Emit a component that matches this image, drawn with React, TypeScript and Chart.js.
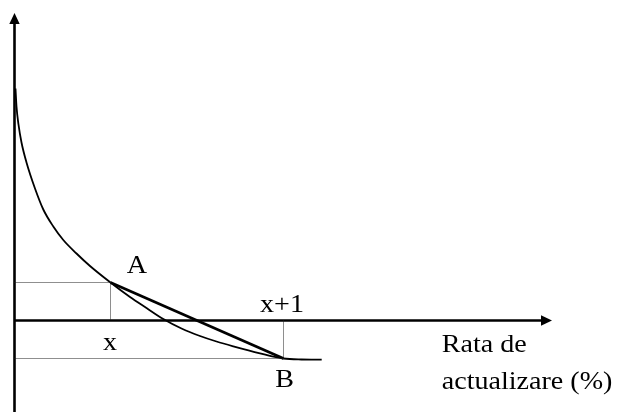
import React, { useEffect, useRef } from "react";
import { Chart, registerables } from "chart.js";

Chart.register(...registerables);

// Diagram units: origin where the axes cross; x = discount rate (schematic), y = NPV (schematic)
const curveX = [1, 2, 4, 7, 12, 20.5, 28.8, 38.8, 48.8, 62, 75.5, 96, 115.5, 132, 148.8, 167, 185.5, 202, 218.8, 245.5, 269, 287, 307.2];
const curveY = [232, 214, 196, 178, 158, 132, 111, 94, 80.5, 67, 54.5, 38, 23.5, 12.5, 1.5, -8, -15.5, -21, -25.8, -32.8, -38, -39, -39.2];

const pointA = { x: 96, y: 38 };
const pointB = { x: 269, y: -38 };

const xAxisEnd = 537.5; // arrow tip
const yAxisTop = 307.5; // arrow tip
const yAxisBottom = -92;

const labelTexts = ["A", "x", "x+1", "B", "Rata de", "actualizare (%)"];
const labelX = [122.5, 95.5, 267.5, 270, 427.2, 427.2];
const labelY = [47.5, -29.5, 8.8, -66.2, -31.2, -68.5];
const labelAlign: CanvasTextAlign[] = ["center", "center", "center", "center", "left", "left"];

const X_MIN = -14.5;
const X_MAX = 604.5;
const Y_MIN = -91.5;
const Y_MAX = 320.5;

const overlayPlugin = {
  id: "overlay",
  afterDatasetsDraw(chart: any) {
    const { ctx, scales } = chart;
    const sx = scales.x;
    const sy = scales.y;
    ctx.save();
    ctx.fillStyle = "#000";
    // arrow heads
    const ox = sx.getPixelForValue(0);
    const oy = sy.getPixelForValue(0);
    const tipY = sy.getPixelForValue(yAxisTop);
    ctx.beginPath();
    ctx.moveTo(ox, tipY);
    ctx.lineTo(ox - 5.2, tipY + 11);
    ctx.lineTo(ox + 5.2, tipY + 11);
    ctx.closePath();
    ctx.fill();
    const tipX = sx.getPixelForValue(xAxisEnd);
    ctx.beginPath();
    ctx.moveTo(tipX, oy);
    ctx.lineTo(tipX - 11, oy - 5.2);
    ctx.lineTo(tipX - 11, oy + 5.2);
    ctx.closePath();
    ctx.fill();
    // labels
    ctx.font = '26px "Liberation Serif", "Times New Roman", serif';
    ctx.textBaseline = "alphabetic";
    labelTexts.forEach((t, i) => {
      const px = sx.getPixelForValue(labelX[i]);
      const py = sy.getPixelForValue(labelY[i]);
      ctx.save();
      ctx.translate(px, py);
      ctx.scale(1.08, 1);
      ctx.textAlign = labelAlign[i];
      ctx.fillText(t, 0, 0);
      ctx.restore();
    });
    ctx.restore();
  },
};

export default function App() {
  const ref = useRef<HTMLCanvasElement>(null);
  useEffect(() => {
    if (!ref.current) return;
    const dotted = { borderColor: "#1e1e1e", borderWidth: 1, borderDash: [1, 1], pointRadius: 0, tension: 0 };
    const chart = new Chart(ref.current, {
      type: "line",
      data: {
        datasets: [
          { data: [{ x: 0, y: pointA.y }, { x: pointA.x, y: pointA.y }], ...dotted },
          { data: [{ x: pointA.x, y: pointA.y }, { x: pointA.x, y: 0 }], ...dotted },
          { data: [{ x: 0, y: pointB.y }, { x: pointB.x, y: pointB.y }], ...dotted },
          { data: [{ x: pointB.x, y: 0 }, { x: pointB.x, y: pointB.y }], ...dotted },
          {
            data: [{ x: 0, y: yAxisBottom }, { x: 0, y: yAxisTop - 10 }],
            borderColor: "#000", borderWidth: 2.6, pointRadius: 0,
          },
          {
            data: [{ x: 0, y: 0 }, { x: xAxisEnd - 10, y: 0 }],
            borderColor: "#000", borderWidth: 2.4, pointRadius: 0,
          },
          {
            data: curveX.map((x, i) => ({ x, y: curveY[i] })),
            borderColor: "#000", borderWidth: 1.8, pointRadius: 0,
            cubicInterpolationMode: "monotone",
          },
          {
            data: [pointA, pointB],
            borderColor: "#000", borderWidth: 2.7, pointRadius: 0,
          },
        ] as any,
      },
      options: {
        animation: false,
        responsive: false,
        devicePixelRatio: 1,
        layout: { padding: 0 },
        plugins: { legend: { display: false }, tooltip: { enabled: false } },
        scales: {
          x: { type: "linear", display: false, min: X_MIN, max: X_MAX },
          y: { type: "linear", display: false, min: Y_MIN, max: Y_MAX },
        },
      } as any,
      plugins: [overlayPlugin],
    });
    return () => chart.destroy();
  }, []);
  return (
    <canvas
      ref={ref}
      width={619}
      height={412}
      style={{ position: "fixed", left: 0, top: 0, width: 619, height: 412, background: "#fff" }}
    />
  );
}
